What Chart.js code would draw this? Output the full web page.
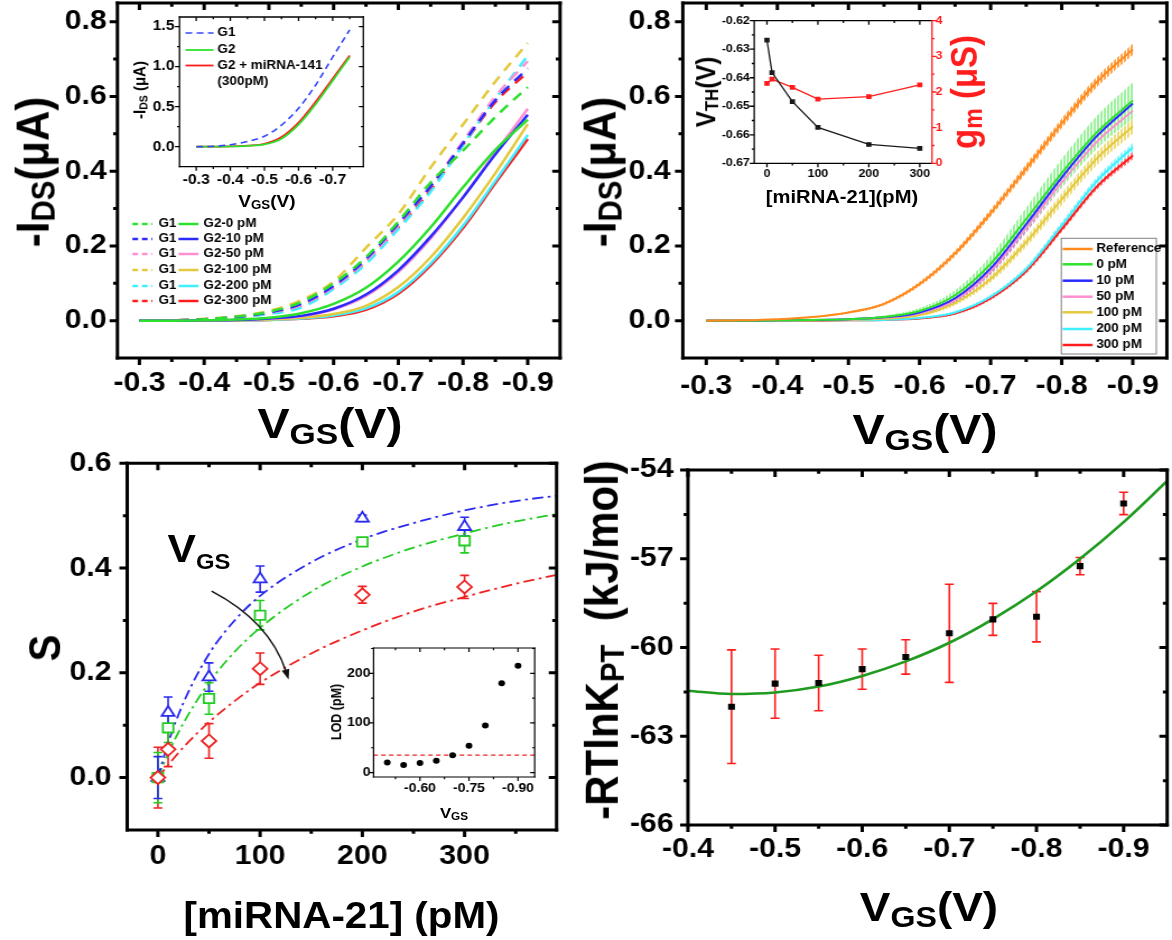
<!DOCTYPE html>
<html>
<head>
<meta charset="utf-8">
<title>miRNA-21 FET sensing</title>
<script src="https://cdn.jsdelivr.net/npm/chart.js@4.4.1/dist/chart.umd.min.js"></script>
<style>
  html, body { margin: 0; padding: 0; background: #fff; }
  #fig { position: absolute; left: 0; top: 0; width: 1046px; height: 940px;
         transform: scaleX(1.12046); transform-origin: 0 0;
         font-family: 'Liberation Sans', Arial, sans-serif; font-weight: bold; color: #000; }
  #fig canvas { position: absolute; }
  .t { position: absolute; white-space: nowrap; line-height: 1; }
  .sb { font-size: .7em; position: relative; top: .2em; }
  .sb2 { font-size: .56em; position: relative; top: .35em; }
</style>
</head>
<body>
<div id="fig"></div>
<script>
// ---------- (a) transfer curves: G1 reference (dashed) vs G2 after miRNA-21 (solid) ----------
const VGS_A = [-0.30, -0.35, -0.40, -0.45, -0.50, -0.55, -0.60, -0.65, -0.70, -0.75, -0.80, -0.85, -0.90];
const CONC_LABELS = ['0 pM', '10 pM', '50 pM', '100 pM', '200 pM', '300 pM'];
const G1_0PM   = [0, 0.001, 0.004, 0.011, 0.024, 0.050, 0.100, 0.170, 0.265, 0.370, 0.455, 0.545, 0.625];
const G1_10PM  = [0, 0.001, 0.004, 0.010, 0.022, 0.045, 0.093, 0.165, 0.260, 0.360, 0.475, 0.590, 0.675];
const G1_50PM  = [0, 0.001, 0.004, 0.010, 0.021, 0.042, 0.090, 0.160, 0.255, 0.360, 0.480, 0.600, 0.694];
const G1_100PM = [0, 0.001, 0.005, 0.012, 0.026, 0.055, 0.105, 0.195, 0.285, 0.410, 0.525, 0.640, 0.743];
const G1_200PM = [0, 0.001, 0.003, 0.008, 0.018, 0.035, 0.085, 0.152, 0.245, 0.345, 0.470, 0.594, 0.709];
const G1_300PM = [0, 0.001, 0.004, 0.009, 0.020, 0.040, 0.088, 0.158, 0.250, 0.350, 0.470, 0.585, 0.665];
const G2_0PM   = [0, 0, 0.001, 0.003, 0.008, 0.020, 0.045, 0.088, 0.158, 0.250, 0.357, 0.457, 0.538];
const G2_10PM  = [0, 0, 0.001, 0.002, 0.006, 0.013, 0.032, 0.070, 0.135, 0.225, 0.330, 0.445, 0.551];
const G2_50PM  = [0, 0, 0.001, 0.002, 0.005, 0.012, 0.030, 0.066, 0.130, 0.220, 0.330, 0.450, 0.567];
const G2_100PM = [0, 0, 0, 0.001, 0.003, 0.008, 0.018, 0.040, 0.090, 0.170, 0.275, 0.395, 0.526];
const G2_200PM = [0, 0, 0, 0.001, 0.002, 0.006, 0.014, 0.033, 0.077, 0.153, 0.254, 0.374, 0.497];
const G2_300PM = [0, 0, 0, 0.001, 0.002, 0.005, 0.012, 0.029, 0.072, 0.148, 0.248, 0.368, 0.486];
const A_X_TICKS = [-0.3, -0.4, -0.5, -0.6, -0.7, -0.8, -0.9];
const A_X_MINOR = [-0.35, -0.45, -0.55, -0.65, -0.75, -0.85];
const A_Y_TICKS = [0, 0.2, 0.4, 0.6, 0.8];
const A_Y_MINOR = [0.1, 0.3, 0.5, 0.7];

// inset of (a): G1, G2, G2 + miRNA-141
const VGS_IN = [-0.30, -0.35, -0.40, -0.45, -0.50, -0.55, -0.60, -0.65, -0.70, -0.75];
const IN_G1  = [0, 0.005, 0.025, 0.065, 0.130, 0.270, 0.480, 0.770, 1.120, 1.460];
const IN_G2  = [0, 0, 0.003, 0.010, 0.028, 0.100, 0.275, 0.530, 0.825, 1.120];
const IN_141 = [0, 0, 0.004, 0.013, 0.035, 0.120, 0.300, 0.560, 0.850, 1.140];
const IN_X_TICKS = [-0.3, -0.4, -0.5, -0.6, -0.7];
const IN_X_MINOR = [-0.35, -0.45, -0.55, -0.65, -0.75];
const IN_Y_TICKS = [0, 0.5, 1.0, 1.5];
const IN_Y_MINOR = [0.25, 0.75, 1.25];

// ---------- (b) averaged curves with error hatching ----------
const REF_B      = [0, 0.001, 0.004, 0.010, 0.022, 0.045, 0.098, 0.180, 0.288, 0.407, 0.528, 0.640, 0.726];
const REF_B_ERR  = [0, 0, 0.001, 0.002, 0.003, 0.004, 0.006, 0.008, 0.010, 0.012, 0.013, 0.014, 0.015];
const B_0PM      = [0, 0, 0.001, 0.002, 0.004, 0.010, 0.026, 0.068, 0.152, 0.272, 0.395, 0.505, 0.589];
const B_0PM_ERR  = [0, 0, 0, 0.001, 0.002, 0.004, 0.008, 0.014, 0.022, 0.030, 0.038, 0.044, 0.048];
const B_10PM     = [0, 0, 0.001, 0.002, 0.004, 0.009, 0.022, 0.060, 0.140, 0.258, 0.383, 0.495, 0.581];
const B_10PM_ERR = [0, 0, 0, 0.001, 0.002, 0.003, 0.006, 0.010, 0.015, 0.020, 0.024, 0.026, 0.028];
const B_50PM     = [0, 0, 0.001, 0.002, 0.003, 0.008, 0.020, 0.055, 0.132, 0.248, 0.370, 0.480, 0.562];
const B_50PM_ERR = [0, 0, 0, 0.001, 0.001, 0.002, 0.004, 0.007, 0.010, 0.013, 0.015, 0.017, 0.018];
const B_100PM     = [0, 0, 0, 0.001, 0.002, 0.005, 0.015, 0.048, 0.112, 0.210, 0.325, 0.435, 0.520];
const B_100PM_ERR = [0, 0, 0, 0.001, 0.001, 0.002, 0.004, 0.007, 0.010, 0.013, 0.016, 0.018, 0.020];
const B_200PM     = [0, 0, 0, 0.001, 0.001, 0.002, 0.007, 0.022, 0.064, 0.138, 0.255, 0.375, 0.464];
const B_200PM_ERR = [0, 0, 0, 0, 0.001, 0.001, 0.002, 0.004, 0.006, 0.008, 0.010, 0.011, 0.012];
const B_300PM     = [0, 0, 0, 0, 0.001, 0.002, 0.006, 0.019, 0.060, 0.133, 0.245, 0.360, 0.442];
const B_300PM_ERR = [0, 0, 0, 0, 0.001, 0.001, 0.002, 0.003, 0.005, 0.007, 0.008, 0.009, 0.010];

// inset of (b): threshold voltage and transconductance
const CONC_TH = [0, 10, 50, 100, 200, 300];
const VTH     = [-0.6268, -0.6382, -0.6484, -0.6574, -0.6634, -0.6648];
const GM      = [2.24, 2.36, 2.13, 1.80, 1.87, 2.20];
const TH_X_TICKS = [0, 100, 200, 300];
const TH_X_MINOR = [50, 150, 250];
const VTH_TICKS = [-0.62, -0.63, -0.64, -0.65, -0.66, -0.67];
const VTH_MINOR = [-0.625, -0.635, -0.645, -0.655, -0.665];
const GM_TICKS = [0, 1, 2, 3, 4];
const GM_MINOR = [0.5, 1.5, 2.5, 3.5];

// ---------- (c) sensitivity vs concentration ----------
const CONC_S = [0, 10, 50, 100, 200, 300];
const S_BLUE      = [0.000, 0.124, 0.192, 0.379, 0.495, 0.479];
const S_BLUE_ERR  = [0.040, 0.030, 0.027, 0.025, 0.006, 0.018];
const S_GREEN     = [0.000, 0.095, 0.151, 0.310, 0.450, 0.452];
const S_GREEN_ERR = [0.048, 0.028, 0.030, 0.028, 0.005, 0.023];
const S_RED       = [0.000, 0.054, 0.070, 0.208, 0.349, 0.364];
const S_RED_ERR   = [0.058, 0.033, 0.033, 0.030, 0.016, 0.022];
const FIT_X     = [0, 10, 25, 50, 75, 100, 150, 200, 250, 300, 350, 390];
const FIT_BLUE  = [0, 0.066, 0.143, 0.236, 0.300, 0.347, 0.411, 0.455, 0.486, 0.510, 0.528, 0.538];
const FIT_GREEN = [0, 0.046, 0.104, 0.181, 0.240, 0.286, 0.355, 0.403, 0.439, 0.466, 0.489, 0.503];
const FIT_RED   = [0, 0.024, 0.058, 0.106, 0.146, 0.181, 0.237, 0.281, 0.317, 0.345, 0.370, 0.387];
const C_X_TICKS = [0, 100, 200, 300];
const C_X_MINOR = [50, 150, 250, 350];
const C_Y_TICKS = [0, 0.2, 0.4, 0.6];
const C_Y_MINOR = [0.1, 0.3, 0.5];
const ARROW = [[52.5, 0.356], [99.7, 0.285], [127.9, 0.1875]];   // start, middle, tip (data units)

// inset of (c): limit of detection
const LOD_V = [-0.50, -0.55, -0.60, -0.65, -0.70, -0.75, -0.80, -0.85, -0.90];
const LOD   = [20, 15, 19, 24, 35, 54, 95, 180, 215];
const LOD_LIMIT = 35;
const LOD_X_RANGE = [-0.951, -0.458];
const LOD_X_TICKS = [-0.6, -0.75, -0.9];
const LOD_X_MINOR = [-0.525, -0.675, -0.825];
const LOD_Y_TICKS = [0, 100, 200];
const LOD_Y_MINOR = [50, 150, 250];

// ---------- (d) binding free energy ----------
const D_V   = [-0.45, -0.50, -0.55, -0.60, -0.65, -0.70, -0.75, -0.80, -0.85, -0.90];
const D_G   = [-62.00, -61.22, -61.20, -60.73, -60.32, -59.52, -59.05, -58.96, -57.25, -55.13];
const D_ERR = [1.92, 1.17, 0.94, 0.68, 0.58, 1.66, 0.54, 0.85, 0.29, 0.38];
const D_FIT_V = [-0.40, -0.45, -0.50, -0.55, -0.60, -0.65, -0.70, -0.75, -0.80, -0.85, -0.90, -0.95];
const D_FIT   = [-61.46, -61.57, -61.52, -61.32, -60.96, -60.47, -59.84, -59.04, -58.10, -57.00, -55.76, -54.37];
const D_X_TICKS = [-0.4, -0.5, -0.6, -0.7, -0.8, -0.9];
const D_X_MINOR = [-0.45, -0.55, -0.65, -0.75, -0.85];
const D_Y_TICKS = [-54, -57, -60, -63, -66];
const D_Y_MINOR = [-55.5, -58.5, -61.5, -64.5];

const COL = { green: '#2ee02e', blue: '#2a2aff', pink: '#ff8fd0', yellow: '#e3c93e',
              cyan: '#3eefff', red: '#ff1c1c', orange: '#ff8a1e' };

// ---------- helpers ----------
const SX = 1172 / 1046;           // the figure is stretched horizontally
const fig = document.getElementById('fig');
const FONT = "'Liberation Sans', Arial, sans-serif";
const TICK = 27;
Chart.defaults.font.family = FONT;
Chart.defaults.font.weight = 'bold';
Chart.defaults.color = '#000';

const pts = (xs, ys) => xs.map((x, i) => ({ x, y: ys[i] }));
const shift = (ys, es, k) => ys.map((y, i) => y + k * es[i]);

function line(data, color, extra) {
  return Object.assign({ data, showLine: true, borderColor: color, backgroundColor: color,
    borderWidth: 2.5, pointRadius: 0, fill: false, cubicInterpolationMode: 'monotone' }, extra || {});
}

function axis(pos, min, max, major, fmt, size, pad, extra) {
  return Object.assign({
    type: 'linear', position: pos, min, max,
    grid: { display: false, drawTicks: false }, border: { display: false },
    afterBuildTicks: s => { s.ticks = major.map(v => ({ value: v })); },
    ticks: { autoSkip: false, maxRotation: 0, minRotation: 0, padding: pad,
             font: { size, weight: 'bold' }, color: '#000', callback: fmt }
  }, extra || {});
}

function box4(xt, xm, yt, ym) {
  return [
    { side: 'bottom', scale: 'x', major: xt, minor: xm },
    { side: 'top', scale: 'x', major: xt, minor: xm },
    { side: 'left', scale: 'y', major: yt, minor: ym },
    { side: 'right', scale: 'y', major: yt, minor: ym }
  ];
}

// Origin-like frame: outward ticks bottom/left, inward ticks top/right
function framePlugin(lw, len, sides) {
  return {
    id: 'frame',
    afterDatasetsDraw(chart) {
      const { ctx, chartArea: a } = chart;
      ctx.save();
      for (const s of sides) {
        const sc = chart.scales[s.scale];
        const out = s.out !== undefined ? s.out : (s.side === 'bottom' || s.side === 'left');
        const g = out ? 1 : -1;
        ctx.strokeStyle = s.color || '#000';
        ctx.lineWidth = lw;
        ctx.beginPath();
        if (s.side === 'bottom') { ctx.moveTo(a.left - lw / 2, a.bottom); ctx.lineTo(a.right + lw / 2, a.bottom); }
        if (s.side === 'top') { ctx.moveTo(a.left - lw / 2, a.top); ctx.lineTo(a.right + lw / 2, a.top); }
        if (s.side === 'left') { ctx.moveTo(a.left, a.top - lw / 2); ctx.lineTo(a.left, a.bottom + lw / 2); }
        if (s.side === 'right') { ctx.moveTo(a.right, a.top - lw / 2); ctx.lineTo(a.right, a.bottom + lw / 2); }
        ctx.stroke();
        const mark = (vals, l) => {
          ctx.beginPath();
          for (const v of vals) {
            const p = sc.getPixelForValue(v);
            if (s.side === 'bottom') { ctx.moveTo(p, a.bottom); ctx.lineTo(p, a.bottom + g * l); }
            if (s.side === 'top') { ctx.moveTo(p, a.top); ctx.lineTo(p, a.top - g * l); }
            if (s.side === 'left') { ctx.moveTo(a.left, p); ctx.lineTo(a.left - g * l, p); }
            if (s.side === 'right') { ctx.moveTo(a.right, p); ctx.lineTo(a.right + g * l, p); }
          }
          ctx.stroke();
        };
        mark(s.major, len);
        mark(s.minor || [], len * 0.55);
      }
      ctx.restore();
    }
  };
}

// vertical error bars with caps, drawn under the markers
const errPlugin = {
  id: 'errbars',
  beforeDatasetsDraw(chart) {
    const ctx = chart.ctx;
    chart.data.datasets.forEach((ds, i) => {
      if (!ds.errors) return;
      const meta = chart.getDatasetMeta(i), ys = meta.yScale;
      ctx.save();
      ctx.strokeStyle = ds.errColor || ds.borderColor;
      ctx.lineWidth = ds.errWidth || 1.6;
      const c = ds.capW / 2;
      meta.data.forEach((el, j) => {
        const v = ds.data[j].y, e = ds.errors[j];
        const yt = ys.getPixelForValue(v + e), yb = ys.getPixelForValue(v - e);
        ctx.beginPath();
        ctx.moveTo(el.x, yt); ctx.lineTo(el.x, yb);
        ctx.moveTo(el.x - c, yt); ctx.lineTo(el.x + c, yt);
        ctx.moveTo(el.x - c, yb); ctx.lineTo(el.x + c, yb);
        ctx.stroke();
      });
      ctx.restore();
    });
  }
};

// hand-placed legend (positions in page pixels)
function keyPlugin(origin, items, font, frameBox) {
  const lx = X => (X - origin[0]) / SX, ly = Y => Y - origin[1];
  return {
    id: 'key',
    afterDraw(chart) {
      const ctx = chart.ctx;
      ctx.save();
      if (frameBox) {
        ctx.strokeStyle = '#808080'; ctx.lineWidth = 1;
        ctx.strokeRect(lx(frameBox[0]), ly(frameBox[1]), lx(frameBox[2]) - lx(frameBox[0]), frameBox[3] - frameBox[1]);
      }
      ctx.font = font; ctx.textBaseline = 'middle'; ctx.fillStyle = '#000';
      for (const it of items) {
        const ds = chart.data.datasets[it.ds];
        ctx.strokeStyle = ds.borderColor;
        ctx.lineWidth = it.lw || ds.borderWidth;
        ctx.setLineDash(it.dash || ds.borderDash || []);
        ctx.beginPath(); ctx.moveTo(lx(it.x[0]), ly(it.y)); ctx.lineTo(lx(it.x[1]), ly(it.y)); ctx.stroke();
        ctx.setLineDash([]);
        [].concat(it.text).forEach((t, k) => ctx.fillText(t, lx(it.tx), ly(it.y) + k * (it.lh || 0)));
      }
      ctx.restore();
    }
  };
}

function noPad(s) { s.paddingTop = 0; s.paddingBottom = 0; s.paddingLeft = 0; s.paddingRight = 0; }

function makeChart(box, frame, scales, datasets, plugins) {
  const [x0, y0, x1, y1] = box, [L, T, R, B] = frame;
  const cv = document.createElement('canvas');
  const w = Math.round((x1 - x0) / SX), h = y1 - y0;
  cv.width = w; cv.height = h;
  cv.style.cssText = `left:${(x0 / SX).toFixed(2)}px;top:${y0}px;width:${w}px;height:${h}px`;
  fig.appendChild(cv);
  const padR = (x1 - R) / SX;
  scales.x.afterFit = s => { s.height = y1 - B; noPad(s); };
  scales.y.afterFit = s => { s.width = (L - x0) / SX; noPad(s); };
  if (scales.y2) scales.y2.afterFit = s => { s.width = padR; noPad(s); };
  return new Chart(cv, {
    type: 'scatter',
    data: { datasets },
    options: {
      responsive: false, maintainAspectRatio: false, animation: false, events: [],
      layout: { padding: { left: 0, top: T - y0, right: scales.y2 ? 0 : padR, bottom: 0 } },
      scales,
      plugins: { legend: { display: false }, tooltip: { enabled: false } }
    },
    plugins
  });
}

function label(html, cx, cy, size, rot, color) {
  const d = document.createElement('div');
  d.className = 't';
  d.innerHTML = html;
  d.style.left = (cx / SX) + 'px';
  d.style.top = cy + 'px';
  d.style.fontSize = size + 'px';
  if (color) d.style.color = color;
  d.style.transform = 'translate(-50%,-50%)' + (rot ? ' rotate(-90deg)' : '');
  fig.appendChild(d);
}

function hatch(color) {
  const p = document.createElement('canvas');
  p.width = 3; p.height = 4;
  const c = p.getContext('2d');
  c.fillStyle = color; c.fillRect(0, 0, 2, 4);
  return c.createPattern(p, 'repeat');
}

const fx1 = v => v.toFixed(1), fx2 = v => v.toFixed(2), fint = v => String(v);

// ---------- panel (a) ----------
{
  const box = [50, 0, 585, 405], frame = [117, 3, 560.2, 358.1];
  const dash = [10, 7];
  const g1 = [G1_0PM, G1_10PM, G1_50PM, G1_100PM, G1_200PM, G1_300PM];
  const g2 = [G2_0PM, G2_10PM, G2_50PM, G2_100PM, G2_200PM, G2_300PM];
  const cols = [COL.green, COL.blue, COL.pink, COL.yellow, COL.cyan, COL.red];
  const sets = [];
  g2.forEach((ys, k) => sets.push(line(pts(VGS_A, ys), cols[k])));
  g1.forEach((ys, k) => sets.push(line(pts(VGS_A, ys), cols[k], { borderDash: dash })));
  const rows = [224, 239, 254, 270, 286, 301];
  const items = [];
  rows.forEach((y, k) => {
    items.push({ ds: 6 + k, x: [132, 152], y, tx: 158, text: 'G1', dash: [5, 3.5] });
    items.push({ ds: k, x: [178, 198], y, tx: 203, text: 'G2-' + CONC_LABELS[k] });
  });
  makeChart(box, frame, {
    x: axis('bottom', -0.95, -0.266, A_X_TICKS, fx1, TICK, 9.7, { reverse: true }),
    y: axis('left', -0.1, 0.85, A_Y_TICKS, fx1, TICK, 9.6)
  }, sets, [framePlugin(3, 7, box4(A_X_TICKS, A_X_MINOR, A_Y_TICKS, A_Y_MINOR)),
            keyPlugin(box, items, `bold 12px ${FONT}`)]);
}
// inset (a)
{
  const box = [125, 5, 375, 195], frame = [179, 17, 363, 166.7];
  const sets = [
    line(pts(VGS_IN, IN_G1), '#3344ff', { borderWidth: 1.6, borderDash: [6, 4] }),
    line(pts(VGS_IN, IN_G2), COL.green, { borderWidth: 1.8 }),
    line(pts(VGS_IN, IN_141), COL.red, { borderWidth: 1.8 })
  ];
  const items = [
    { ds: 0, x: [185, 213], y: 33, tx: 217, text: 'G1' },
    { ds: 1, x: [185, 213], y: 50, tx: 217, text: 'G2' },
    { ds: 2, x: [185, 213], y: 65.5, tx: 217, text: ['G2 + miRNA-141', '(300pM)'], lh: 16 }
  ];
  makeChart(box, frame, {
    x: axis('bottom', -0.79, -0.251, IN_X_TICKS, fx1, 14, 4.9, { reverse: true }),
    y: axis('left', -0.25, 1.62, IN_Y_TICKS, fx1, 14, 4.5)
  }, sets, [framePlugin(1.3, 4, box4(IN_X_TICKS, IN_X_MINOR, IN_Y_TICKS, IN_Y_MINOR)),
            keyPlugin(box, items, `bold 12px ${FONT}`)]);
}

// ---------- panel (b) ----------
{
  const box = [620, 0, 1172, 405], frame = [683.2, 3, 1166.9, 358.1];
  const series = [
    [REF_B, REF_B_ERR, COL.orange, '#ffa245'],
    [B_0PM, B_0PM_ERR, COL.green, '#9cf29c'],
    [B_10PM, B_10PM_ERR, COL.blue, '#9098b4'],
    [B_50PM, B_50PM_ERR, COL.pink, '#ffb3de'],
    [B_100PM, B_100PM_ERR, COL.yellow, '#eedc7a'],
    [B_200PM, B_200PM_ERR, COL.cyan, '#8ef5ff'],
    [B_300PM, B_300PM_ERR, COL.red, '#ff7a7a']
  ];
  const sets = series.map(s => line(pts(VGS_A, s[0]), s[2], { borderWidth: 2 }));
  series.forEach(s => {
    const up = sets.length;
    sets.push(line(pts(VGS_A, shift(s[0], s[1], 1)), 'rgba(0,0,0,0)', { borderWidth: 1 }));
    sets.push(line(pts(VGS_A, shift(s[0], s[1], -1)), 'rgba(0,0,0,0)',
      { borderWidth: 1, fill: up, backgroundColor: hatch(s[3]) }));
  });
  const rows = [249, 264.3, 280.7, 296.7, 312.3, 329, 345];
  const names = ['Reference'].concat(CONC_LABELS);
  const items = rows.map((y, k) => ({ ds: k, x: [1063, 1093], y, tx: 1096.7, text: names[k], lw: 2.5 }));
  makeChart(box, frame, {
    x: axis('bottom', -0.948, -0.267, A_X_TICKS, fx1, TICK, 12.4, { reverse: true }),
    y: axis('left', -0.1, 0.85, A_Y_TICKS, fx1, TICK, 10.9)
  }, sets, [framePlugin(3, 7, box4(A_X_TICKS, A_X_MINOR, A_Y_TICKS, A_Y_MINOR)),
            keyPlugin(box, items, `bold 12px ${FONT}`, [1061.7, 238.3, 1156.7, 354])]);
}
// inset (b)
{
  const box = [690, 8, 990, 190], frame = [754, 20.7, 931.5, 163.3];
  const sets = [
    line(pts(CONC_TH, VTH), '#1a1a1a', { borderWidth: 1.3, pointRadius: 2.4, pointStyle: 'rect',
      cubicInterpolationMode: 'default', tension: 0 }),
    line(pts(CONC_TH, GM), '#ff1c1c', { borderWidth: 1.3, pointRadius: 2.4, pointStyle: 'rect',
      cubicInterpolationMode: 'default', tension: 0, yAxisID: 'y2' })
  ];
  const y2 = axis('right', 0, 4, GM_TICKS, fint, 11, 3.1);
  y2.ticks.color = '#ff1c1c';
  makeChart(box, frame, {
    x: axis('bottom', -25, 324, TH_X_TICKS, fint, 11, 4.1),
    y: axis('left', -0.67, -0.62, VTH_TICKS, fx2, 11, 3.9),
    y2
  }, sets, [framePlugin(1.3, 4, [
    { side: 'bottom', scale: 'x', major: TH_X_TICKS, minor: TH_X_MINOR },
    { side: 'top', scale: 'x', major: TH_X_TICKS, minor: TH_X_MINOR },
    { side: 'left', scale: 'y', major: VTH_TICKS, minor: VTH_MINOR },
    { side: 'right', scale: 'y2', major: GM_TICKS, minor: GM_MINOR, color: '#ff1c1c', out: true }
  ])]);
}

// ---------- panel (c) ----------
{
  const box = [60, 440, 590, 880], frame = [126.7, 463.3, 556.1, 830];
  const CB = '#2a2aee', CG = '#22cc22', CR = '#ee2222';
  const marker = (ys, es, col, style, r) => ({
    data: pts(CONC_S, ys), showLine: false, pointStyle: style, pointRadius: r,
    borderColor: col, backgroundColor: '#fff', borderWidth: 1.8, errors: es, capW: 8, errColor: col
  });
  const sets = [
    marker(S_RED, S_RED_ERR, CR, 'rectRot', 6.5),
    marker(S_GREEN, S_GREEN_ERR, CG, 'rect', 6.6),
    marker(S_BLUE, S_BLUE_ERR, CB, 'triangle', 6.6),
    line(pts(FIT_X, FIT_BLUE), CB, { borderWidth: 1.8, borderDash: [10, 4, 2.5, 4] }),
    line(pts(FIT_X, FIT_GREEN), CG, { borderWidth: 1.8, borderDash: [10, 4, 2.5, 4] }),
    line(pts(FIT_X, FIT_RED), CR, { borderWidth: 1.8, borderDash: [10, 4, 2.5, 4] })
  ];
  const arrowPlugin = {
    id: 'arrow',
    afterDatasetsDraw(chart) {
      const { ctx, scales: { x, y } } = chart;
      const p = ARROW.map(([a, b]) => [x.getPixelForValue(a), y.getPixelForValue(b)]);
      const cx = 2 * p[1][0] - (p[0][0] + p[2][0]) / 2, cy = 2 * p[1][1] - (p[0][1] + p[2][1]) / 2;
      const ang = Math.atan2(p[2][1] - cy, p[2][0] - cx), L = 10, W = 3.5;
      const bx = p[2][0] - L * Math.cos(ang), by = p[2][1] - L * Math.sin(ang);
      ctx.save();
      ctx.strokeStyle = '#111'; ctx.fillStyle = '#111'; ctx.lineWidth = 1.4;
      ctx.beginPath(); ctx.moveTo(p[0][0], p[0][1]);
      ctx.quadraticCurveTo(cx, cy, bx + 2 * Math.cos(ang), by + 2 * Math.sin(ang)); ctx.stroke();
      ctx.beginPath(); ctx.moveTo(p[2][0], p[2][1]);
      ctx.lineTo(bx + W * Math.sin(ang), by - W * Math.cos(ang));
      ctx.lineTo(bx - W * Math.sin(ang), by + W * Math.cos(ang));
      ctx.closePath(); ctx.fill();
      ctx.restore();
    }
  };
  makeChart(box, frame, {
    x: axis('bottom', -30, 390, C_X_TICKS, fint, TICK, 10.5),
    y: axis('left', -0.1, 0.6, C_Y_TICKS, fx1, TICK, 14)
  }, sets, [errPlugin, arrowPlugin, framePlugin(3, 7, box4(C_X_TICKS, C_X_MINOR, C_Y_TICKS, C_Y_MINOR))]);
}
// inset (c)
{
  const box = [330, 640, 545, 800], frame = [373, 648, 534, 777];
  const sets = [
    { data: pts(LOD_V, LOD), showLine: false, pointStyle: 'circle', pointRadius: 3,
      backgroundColor: '#000', borderColor: '#000', borderWidth: 0 },
    line([{ x: LOD_X_RANGE[0], y: LOD_LIMIT }, { x: LOD_X_RANGE[1], y: LOD_LIMIT }], '#ee2222',
      { borderWidth: 1.1, borderDash: [4, 3] })
  ];
  makeChart(box, frame, {
    x: axis('bottom', LOD_X_RANGE[0], LOD_X_RANGE[1], LOD_X_TICKS, fx2, 12.5, 3.8, { reverse: true }),
    y: axis('left', -9, 251, LOD_Y_TICKS, fint, 12.5, 2.7)
  }, sets, [framePlugin(1.2, 4, box4(LOD_X_TICKS, LOD_X_MINOR, LOD_Y_TICKS, LOD_Y_MINOR))]);
}

// ---------- panel (d) ----------
{
  const box = [620, 440, 1172, 880], frame = [688.3, 470, 1169.4, 825];
  const sets = [
    { data: pts(D_V, D_G), showLine: false, pointStyle: 'rect', pointRadius: 4.3,
      backgroundColor: '#000', borderColor: '#000', borderWidth: 0,
      errors: D_ERR, capW: 8, errColor: '#ff1c1c', errWidth: 1.6 },
    line(pts(D_FIT_V, D_FIT), '#1f9a1f', { borderWidth: 2.6 })
  ];
  makeChart(box, frame, {
    x: axis('bottom', -0.95, -0.4, D_X_TICKS, fx1, TICK, 8.8, { reverse: true }),
    y: axis('left', -66, -54, D_Y_TICKS, fint, TICK, 12.8)
  }, sets, [errPlugin, framePlugin(3, 7, box4(D_X_TICKS, D_X_MINOR, D_Y_TICKS, D_Y_MINOR))]);
}

// ---------- axis titles and annotations ----------
label('-I<span class="sb">DS</span>(μA)', 33, 172, 42, true);
label('V<span class="sb">GS</span>(V)', 330, 423, 43);
label('-I<span class="sb">DS</span> (μA)', 139, 90, 15, true);
label('V<span class="sb">GS</span>(V)', 267, 201, 17);
label('-I<span class="sb">DS</span>(μA)', 599, 172, 42, true);
label('V<span class="sb">GS</span>(V)', 925, 429, 43);
label('V<span class="sb">TH</span>(V)', 706, 92, 24, true);
label('g<span class="sb">m</span> (μS)', 964, 92, 33, true, '#ff1c1c');
label('[miRNA-21](pM)', 842, 197, 18);
label('S', 44.5, 648, 40, true);
label('[miRNA-21] (pM)', 341.5, 916, 36);
label('V<span class="sb2">GS</span>', 199, 549, 38);
label('LOD (pM)', 337, 712, 12.5, true);
label('V<span class="sb">GS</span>', 454, 812, 15);
label('-RTlnK<span class="sb">PT</span>&nbsp;&nbsp;(kJ/mol)', 602, 640, 42, true);
label('V<span class="sb">GS</span>(V)', 929, 907, 41);
</script>
</body>
</html>
